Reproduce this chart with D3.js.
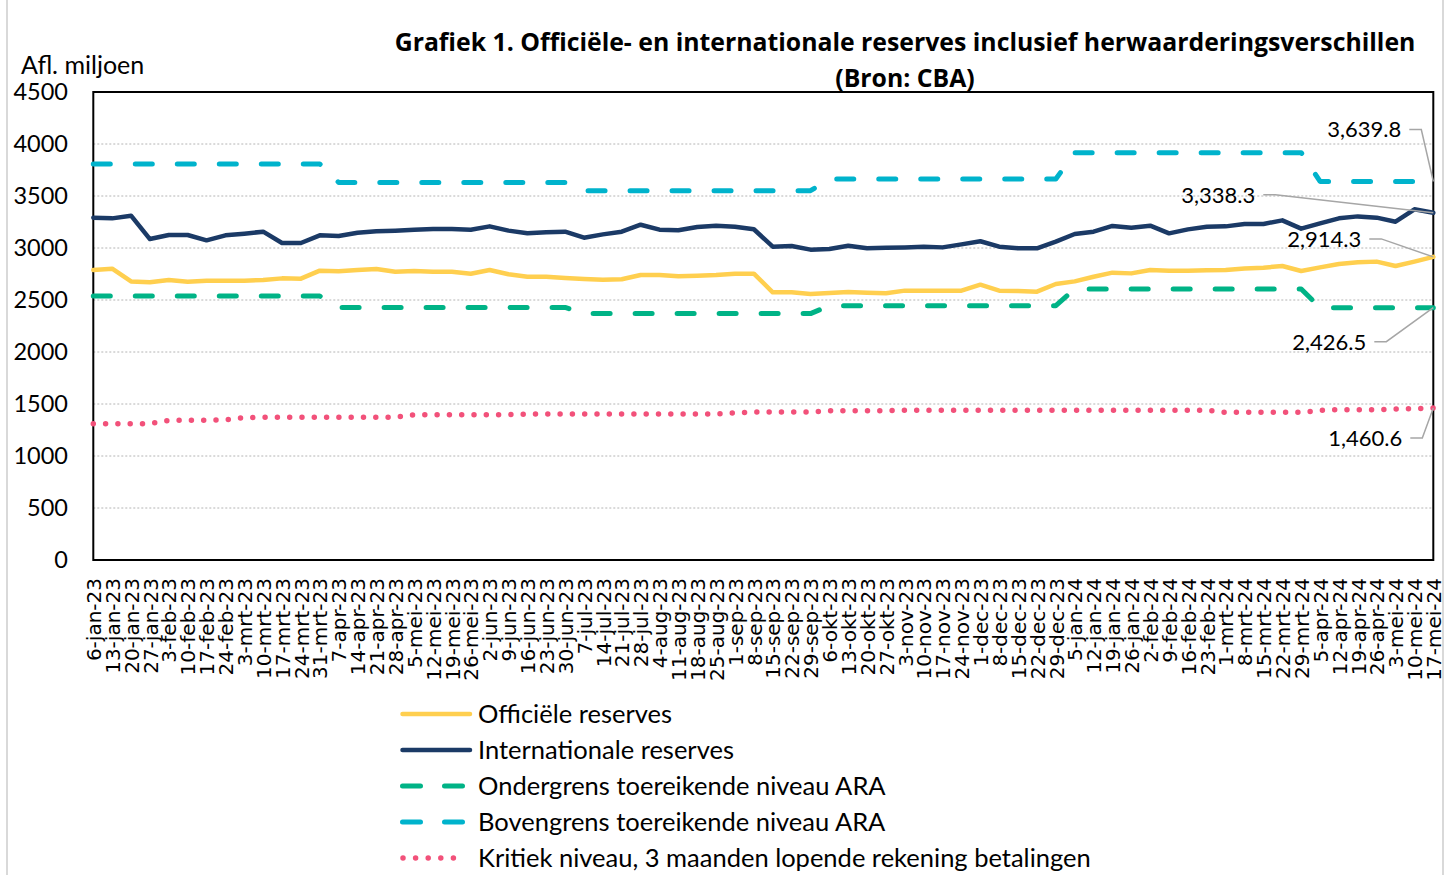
<!DOCTYPE html>
<html>
<head>
<meta charset="utf-8">
<script src="https://cdn.jsdelivr.net/npm/d3@7"></script>
<style>
    body{margin:0;background:#fff;}
    svg text{font-family:Lato,"Open Sans",sans-serif;fill:#000;}
</style>
</head>
<body>
<svg id="chart" width="1447" height="875"></svg>
<script>
var dates=['6-jan-23','13-jan-23','20-jan-23','27-jan-23','3-feb-23','10-feb-23','17-feb-23','24-feb-23','3-mrt-23','10-mrt-23','17-mrt-23','24-mrt-23','31-mrt-23',
    '7-apr-23','14-apr-23','21-apr-23','28-apr-23','5-mei-23','12-mei-23','19-mei-23','26-mei-23','2-jun-23','9-jun-23','16-jun-23','23-jun-23','30-jun-23',
    '7-jul-23','14-jul-23','21-jul-23','28-jul-23','4-aug-23','11-aug-23','18-aug-23','25-aug-23','1-sep-23','8-sep-23','15-sep-23','22-sep-23','29-sep-23',
    '6-okt-23','13-okt-23','20-okt-23','27-okt-23','3-nov-23','10-nov-23','17-nov-23','24-nov-23','1-dec-23','8-dec-23','15-dec-23','22-dec-23','29-dec-23',
    '5-jan-24','12-jan-24','19-jan-24','26-jan-24','2-feb-24','9-feb-24','16-feb-24','23-feb-24','1-mrt-24','8-mrt-24','15-mrt-24','22-mrt-24','29-mrt-24',
    '5-apr-24','12-apr-24','19-apr-24','26-apr-24','3-mei-24','10-mei-24','17-mei-24'];

var officieel=[2788,2801,2679,2670,2692,2676,2686,2686,2686,2692,2708,2705,2782,
    2776,2788,2798,2772,2779,2772,2772,2753,2788,2747,2724,2724,2712,
    2702,2695,2699,2740,2740,2728,2734,2740,2753,2753,2574,2574,2558,
    2567,2577,2570,2564,2590,2590,2590,2590,2647,2590,2587,2580,2654,
    2679,2724,2763,2756,2788,2782,2782,2785,2788,2804,2811,2827,2779,
    2814,2846,2862,2869,2827,2869,2914.3];

var internationaal=[3291,3285,3311,3086,3125,3125,3074,3122,3138,3157,3048,3048,3122,
    3115,3147,3160,3167,3176,3183,3183,3176,3208,3167,3141,3151,3157,
    3099,3131,3157,3224,3176,3170,3202,3215,3205,3180,3013,3019,2984,
    2990,3022,2997,3003,3006,3013,3006,3035,3065,3013,2997,2997,3061,
    3135,3157,3212,3195,3215,3141,3179,3205,3208,3231,3231,3266,3186,
    3237,3285,3304,3292,3253,3372,3338.3];

var ondergrens=[2538,2538,2538,2538,2538,2538,2538,2538,2538,2538,2538,2538,2538,
    2428,2428,2428,2428,2428,2428,2428,2428,2428,2428,2428,2428,2428,
    2369,2369,2369,2369,2369,2369,2369,2369,2369,2369,2369,2369,2369,
    2445,2445,2445,2445,2445,2445,2445,2445,2445,2445,2445,2445,2445,
    2606,2606,2606,2606,2606,2606,2606,2606,2606,2606,2606,2606,2606,
    2426.5,2426.5,2426.5,2426.5,2426.5,2426.5,2426.5];

var bovengrens=[3808,3808,3808,3808,3808,3808,3808,3808,3808,3808,3808,3808,3808,
    3631,3631,3631,3631,3631,3631,3631,3631,3631,3631,3631,3631,3631,
    3551,3551,3551,3551,3551,3551,3551,3551,3551,3551,3551,3551,3551,
    3663,3663,3663,3663,3663,3663,3663,3663,3663,3663,3663,3663,3663,
    3917,3917,3917,3917,3917,3917,3917,3917,3917,3917,3917,3917,3917,
    3639.8,3639.8,3639.8,3639.8,3639.8,3639.8,3639.8];

var kritiek=[1311,1311,1311,1311,1343,1343,1343,1349,1368,1372,1372,1372,1372,
    1372,1372,1372,1372,1397,1397,1397,1397,1397,1397,1404,1404,1404,
    1404,1404,1404,1404,1404,1404,1404,1404,1415,1423,1423,1423,1423,
    1436,1436,1436,1436,1439,1439,1439,1439,1439,1439,1439,1439,1439,
    1439,1439,1439,1439,1439,1439,1439,1439,1420,1420,1420,1420,1420,
    1439,1445,1445,1445,1452,1455,1460.6];

var yTicks=[0,500,1000,1500,2000,2500,3000,3500,4000,4500];

var seriesNames=['Officiële reserves','Internationale reserves','Ondergrens toereikende niveau ARA',
    'Bovengrens toereikende niveau ARA','Kritiek niveau, 3 maanden lopende rekening betalingen'];

(function () {
    var svg=d3.select('#chart');
    var left=93.3,right=1433.3,top=92,bottom=560;

    var x=d3.scalePoint().domain(dates).range([left,right]);
    var y=d3.scaleLinear().domain([0,4500]).range([bottom,top]);

    // series styling, same order as seriesNames
    var series=[
        {name:seriesNames[0],values:officieel,color:'#FFCF4F',width:4.5,dash:null,label:{dx:-52,dy:-18}},
        {name:seriesNames[1],values:internationaal,color:'#1B3A66',width:4.5,dash:null,label:{dx:-158,dy:-18}},
        {name:seriesNames[2],values:ondergrens,color:'#00B386',width:5,dash:'17,25',label:{dx:-47,dy:34}},
        {name:seriesNames[3],values:bovengrens,color:'#00B3CC',width:5,dash:'17,25',label:{dx:-12,dy:-52}},
        {name:seriesNames[4],values:kritiek,color:'#F2517A',width:5.5,dash:'0,12.3',label:{dx:-11,dy:30}}
    ];

    // outer frame
    svg.append('rect').attr('x',7).attr('y',-5).attr('width',1436).attr('height',890)
        .attr('fill','none').attr('stroke','#d9d9d9').attr('stroke-width',2);

    // title
    svg.append('text').attr('x',905).attr('y',51).attr('text-anchor','middle')
        .style('font-family','"Open Sans",sans-serif')
        .style('font-weight','bold').style('font-size','24.8px')
        .text('Grafiek 1. Officiële- en internationale reserves inclusief herwaarderingsverschillen');
    svg.append('text').attr('x',905).attr('y',87).attr('text-anchor','middle')
        .style('font-family','"Open Sans",sans-serif')
        .style('font-weight','bold').style('font-size','24.8px')
        .text('(Bron: CBA)');

    svg.append('text').attr('x',21).attr('y',74).style('font-size','25px').text('Afl. miljoen');

    // grid
    svg.append('g').selectAll('line').data(yTicks.filter(d=>d>0&&d<4500)).enter().append('line')
        .attr('x1',left).attr('x2',right).attr('y1',d=>y(d)).attr('y2',d=>y(d))
        .attr('stroke','#b4b4b4').attr('stroke-width',1).attr('stroke-dasharray','2,2');

    // y axis
    var yAxis=svg.append('g').attr('transform','translate(68,0)')
        .call(d3.axisLeft(y).tickValues(yTicks).tickSize(0).tickPadding(0).tickFormat(d3.format('d')));
    yAxis.select('.domain').remove();
    yAxis.selectAll('text').style('font-size','23.5px').style('font-family','Lato,sans-serif').attr('fill','#000');

    // x axis
    var xAxis=svg.append('g').attr('transform','translate(0,'+bottom+')')
        .call(d3.axisBottom(x).tickSize(0));
    xAxis.select('.domain').remove();
    xAxis.selectAll('text')
        .attr('transform','rotate(-90)').attr('x',-18).attr('y',0).attr('dy','0.36em')
        .style('text-anchor','end').style('font-size','20px')
        .style('font-family','"DejaVu Sans",sans-serif').attr('fill','#000');

    // plot border
    svg.append('rect').attr('x',left).attr('y',top).attr('width',right-left).attr('height',bottom-top)
        .attr('fill','none').attr('stroke','#000').attr('stroke-width',2);

    var line=d3.line().x((d,i)=>x(dates[i])).y(d=>y(d));
    svg.append('g').selectAll('path').data(series).enter().append('path')
        .attr('d',d=>line(d.values))
        .attr('fill','none')
        .attr('stroke',d=>d.color)
        .attr('stroke-width',d=>d.width)
        .attr('stroke-dasharray',d=>d.dash)
        .attr('stroke-linecap','round')
        .attr('stroke-linejoin','round');

    // end labels with leader lines
    var fmt=d3.format(',.1f');
    var ann=svg.append('g').selectAll('g').data(series).enter().append('g');
    ann.append('polyline')
        .attr('points',function (d) {
            var last=d.values[d.values.length-1];
            var ex=x(dates[dates.length-1]),ey=y(last);
            var kx=ex+d.label.dx,ky=ey+d.label.dy;
            return (kx-12)+','+ky+' '+kx+','+ky+' '+ex+','+ey;
        })
        .attr('fill','none').attr('stroke','#a6a6a6').attr('stroke-width',1.5);
    ann.append('text')
        .attr('x',d=>x(dates[dates.length-1])+d.label.dx-20)
        .attr('y',d=>y(d.values[d.values.length-1])+d.label.dy+8)
        .attr('text-anchor','end').style('font-size','22px')
        .text(d=>fmt(d.values[d.values.length-1]));

    // legend
    var leg=svg.append('g').selectAll('g').data(series).enter().append('g')
        .attr('transform',(d,i)=>'translate(400,'+(714+i*36)+')');
    leg.append('line').attr('x1',d=>d.dash==='0,12.3'?3:2.5).attr('x2',d=>d.dash==='0,12.3'?66:70)
        .attr('y1',0).attr('y2',0)
        .attr('stroke',d=>d.color).attr('stroke-width',d=>d.width)
        .attr('stroke-dasharray',d=>d.dash?(d.dash==='0,12.3'?'0,12.6':'18,24'):null)
        .attr('stroke-linecap','round');
    leg.append('text').attr('x',78).attr('y',8.5).style('font-size','25.5px').text(d=>d.name);
})();
</script>
</body>
</html>
